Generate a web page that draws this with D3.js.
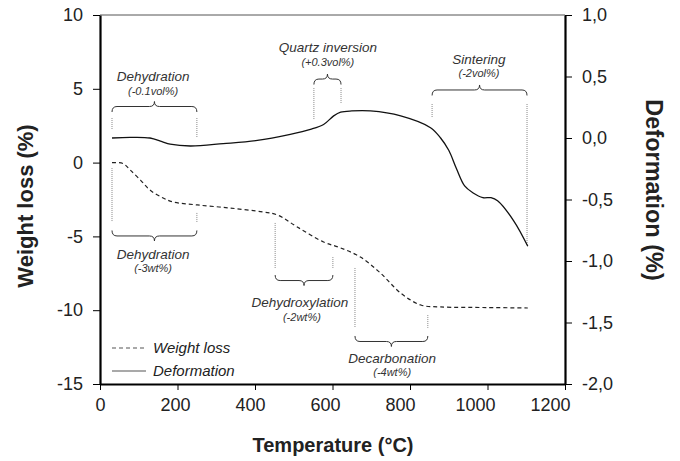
<!DOCTYPE html>
<html><head><meta charset="utf-8">
<script src="https://cdn.jsdelivr.net/npm/d3@7"></script>
<style>body{margin:0;background:#fff}svg{display:block}text{font-family:"Liberation Sans",Arial,sans-serif}</style>
</head><body>
<script>
// ---- data ----
const xTicks = [0, 200, 400, 600, 800, 1000, 1200];
const wTicks = [10, 5, 0, -5, -10, -15];
const dTicks = [1.0, 0.5, 0.0, -0.5, -1.0, -1.5, -2.0];

const wlTemp = [31, 59, 78, 105, 129, 163, 189, 251, 336, 421, 458, 509, 577, 621, 672, 724, 776, 828, 879, 1000, 1104];
const wlVal  = [0, -0.06, -0.5, -1.2, -1.86, -2.4, -2.67, -2.87, -3.08, -3.35, -3.55, -4.36, -5.38, -5.78, -6.40, -7.49, -8.84, -9.65, -9.78, -9.82, -9.85];

const dfTemp = [31, 78, 129, 160, 181, 233, 318, 406, 491, 543, 577, 603, 621, 650, 698, 776, 853, 879, 900, 920, 941, 962, 988, 1009, 1026, 1068, 1104];
const dfVal  = [0.0, 0.005, 0.0, -0.03, -0.05, -0.065, -0.046, -0.02, 0.03, 0.07, 0.11, 0.18, 0.21, 0.22, 0.22, 0.18, 0.084, 0.0, -0.10, -0.25, -0.39, -0.445, -0.485, -0.485, -0.51, -0.675, -0.88];

// annotations (temperature, weight-loss axis units)
const annTitles = ["Dehydration", "Quartz inversion", "Sintering", "Dehydration", "Dehydroxylation", "Decarbonation"];
const annSubs   = ["(-0.1vol%)", "(+0.3vol%)", "(-2vol%)", "(-3wt%)", "(-2wt%)", "(-4wt%)"];
const annT1     = [31, 552, 857, 31, 452, 658];
const annT2     = [250, 622, 1102, 250, 601, 846];
const annBrace  = [3.80, 5.66, 4.92, -4.97, -7.99, -12.12];
const annTip    = [-1, -1, -1, 1, 1, 1];
const annTextT  = [137, 588, 978, 137, 516, 754];
const annSubT   = [137, 588, 978, 137, 521, 754];
const annTitleY = [5.56, 7.46, 6.65, -6.56, -9.75, -13.61];
const annSubY   = [4.61, 6.54, 5.80, -7.41, -10.73, -14.46];
const dotT      = [31, 250, 552, 622, 857, 1102, 31, 250, 452, 601, 658, 846];
const dotTop    = [3.02, 3.02, 5.05, 5.05, 3.97, 3.97, -0.37, -3.41, -4.09, -6.40, -7.14, -10.33];
const dotBot    = [2.21, 1.73, 2.89, 4.04, 3.02, -5.58, -4.02, -4.02, -7.14, -7.14, -11.20, -11.20];

const legendLabels = ["Weight loss", "Deformation"];

// ---- chart ----
const W = 680, H = 461;
const svg = d3.select("body").append("svg").attr("width", W).attr("height", H);
const x = d3.scaleLinear().domain([0, 1200]).range([100, 565]);
const yL = d3.scaleLinear().domain([-15, 10]).range([384, 15]);
const yR = d3.scaleLinear().domain([-2, 1]).range([384, 15]);

// top border
svg.append("line").attr("x1", 100).attr("x2", 565).attr("y1", 15).attr("y2", 15)
  .attr("stroke", "#555").attr("stroke-width", 1);

function styleAxis(g) {
  g.select(".domain").attr("stroke", "#000").attr("stroke-width", 2.2);
  g.selectAll(".tick line").attr("stroke", "#000").attr("stroke-width", 1);
  g.selectAll(".tick text").attr("fill", "#222").style("font-size", "18px");
}

const gx = svg.append("g").attr("transform", "translate(0,384)")
  .call(d3.axisBottom(x).tickValues(xTicks).tickSize(6).tickSizeOuter(0).tickPadding(8).tickFormat(d => String(d)));
styleAxis(gx);
gx.selectAll(".tick text").attr("dx", d => -(d / 1200) * 15);

const gl = svg.append("g").attr("transform", "translate(100,0)")
  .call(d3.axisLeft(yL).tickValues(wTicks).tickSize(7).tickSizeOuter(0).tickPadding(10).tickFormat(d => String(d)));
styleAxis(gl);

const gr = svg.append("g").attr("transform", "translate(565,0)")
  .call(d3.axisRight(yR).tickValues(dTicks).tickSize(7).tickSizeOuter(0).tickPadding(10)
    .tickFormat(d => d.toFixed(1).replace(".", ",")));
styleAxis(gr);

// axis titles
svg.append("text").attr("x", 333).attr("y", 452).attr("text-anchor", "middle")
  .style("font-size", "20px").style("font-weight", "bold").attr("fill", "#222").text("Temperature (°C)");
svg.append("text").attr("transform", "translate(33,206) rotate(-90)").attr("text-anchor", "middle")
  .style("font-size", "22px").style("font-weight", "bold").attr("fill", "#222").text("Weight loss (%)");
svg.append("text").attr("transform", "translate(646,190) rotate(90)").attr("text-anchor", "middle")
  .style("font-size", "23.5px").style("font-weight", "bold").attr("fill", "#222").text("Deformation (%)");

// dotted guide lines
svg.append("g").selectAll("line").data(dotT).join("line")
  .attr("x1", d => x(d)).attr("x2", d => x(d))
  .attr("y1", (d, i) => yL(dotTop[i])).attr("y2", (d, i) => yL(dotBot[i]))
  .attr("stroke", "#888").attr("stroke-width", 1).attr("stroke-dasharray", "1,1");

// braces
function bracePath(x1, x2, y, dir) {
  const xm = (x1 + x2) / 2, r = 5, e = 5.5, t = 5;
  return `M${x1},${y - dir * e} Q${x1},${y} ${x1 + r},${y} L${xm - r},${y} Q${xm},${y} ${xm},${y + dir * t}` +
         ` Q${xm},${y} ${xm + r},${y} L${x2 - r},${y} Q${x2},${y} ${x2},${y - dir * e}`;
}
svg.append("g").selectAll("path").data(annT1).join("path")
  .attr("d", (d, i) => bracePath(x(annT1[i]), x(annT2[i]), yL(annBrace[i]), annTip[i]))
  .attr("fill", "none").attr("stroke", "#333").attr("stroke-width", 1);

const ann = svg.append("g").attr("fill", "#333").style("font-style", "italic");
ann.selectAll("text.t").data(annTitles).join("text").attr("class", "t")
  .attr("x", (d, i) => x(annTextT[i])).attr("y", (d, i) => yL(annTitleY[i]))
  .attr("text-anchor", "middle").style("font-size", "13.5px").text(d => d);
ann.selectAll("text.s").data(annSubs).join("text").attr("class", "s")
  .attr("x", (d, i) => x(annSubT[i])).attr("y", (d, i) => yL(annSubY[i]))
  .attr("text-anchor", "middle").style("font-size", "11px").text(d => d);

// curves
const wlData = wlTemp.map((t, i) => [t, wlVal[i]]);
const dfData = dfTemp.map((t, i) => [t, dfVal[i]]);
svg.append("path").datum(wlData)
  .attr("d", d3.line().x(d => x(d[0])).y(d => yL(d[1])).curve(d3.curveCatmullRom.alpha(0.5)))
  .attr("fill", "none").attr("stroke", "#222").attr("stroke-width", 1.2).attr("stroke-dasharray", "4,3");
svg.append("path").datum(dfData)
  .attr("d", d3.line().x(d => x(d[0])).y(d => yR(d[1])).curve(d3.curveCatmullRom.alpha(0.5)))
  .attr("fill", "none").attr("stroke", "#111").attr("stroke-width", 1.3);

// legend
const lg = svg.append("g");
lg.append("line").attr("x1", 112).attr("x2", 144).attr("y1", 348).attr("y2", 348)
  .attr("stroke", "#555").attr("stroke-width", 1.2).attr("stroke-dasharray", "4,3");
lg.append("line").attr("x1", 112).attr("x2", 146).attr("y1", 371).attr("y2", 371)
  .attr("stroke", "#555").attr("stroke-width", 1.2);
lg.selectAll("text").data(legendLabels).join("text")
  .attr("x", 153).attr("y", (d, i) => 353 + i * 23)
  .style("font-size", "15px").style("font-style", "italic").attr("fill", "#222").text(d => d);
</script>
</body></html>
